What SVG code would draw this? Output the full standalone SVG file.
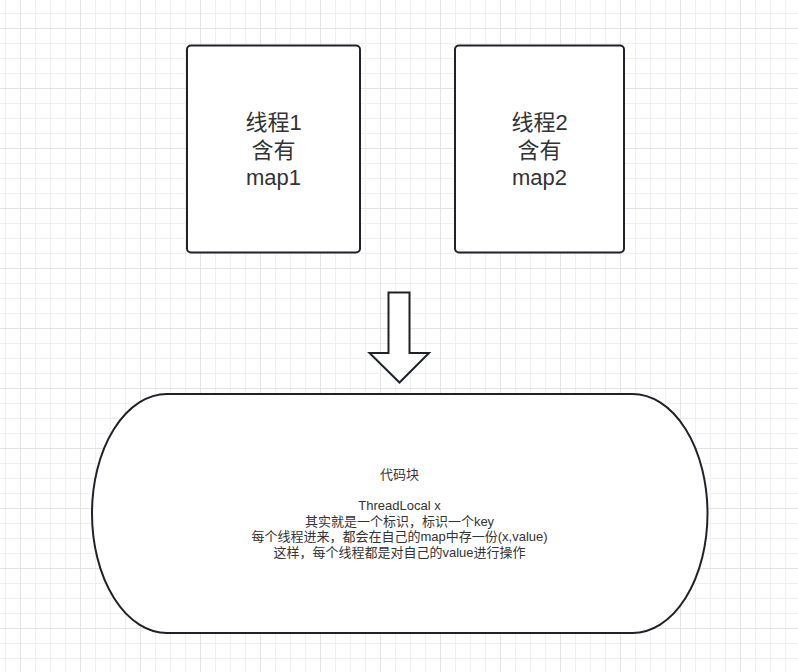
<svg xmlns="http://www.w3.org/2000/svg" width="798" height="672" viewBox="0 0 798 672">
<defs>
<pattern id="minor" width="15" height="15" patternUnits="userSpaceOnUse" x="5" y="13">
<path d="M0 0.5H15M0.5 0V15" fill="none" stroke="#f0f0f0" stroke-width="1"/>
</pattern>
<pattern id="major" width="60" height="60" patternUnits="userSpaceOnUse" x="20" y="28">
<path d="M0 0.5H60M0.5 0V60" fill="none" stroke="#e3e3e3" stroke-width="1"/>
</pattern>
</defs>
<style>
.shape{fill:#ffffff;stroke:#1f2329;stroke-width:2}
.big{font-family:"Liberation Sans","Noto Sans CJK SC",sans-serif;font-size:22px;fill:#333333;text-anchor:middle}
.small{font-family:"Liberation Sans","Noto Sans CJK SC",sans-serif;font-size:13px;fill:#333333;text-anchor:middle}
</style>
<rect width="798" height="672" fill="#ffffff"/>
<rect width="798" height="672" fill="url(#minor)"/>
<rect width="798" height="672" fill="url(#major)"/>
<g id="thread1">
<rect class="shape" x="187" y="45.5" width="173" height="207" rx="4"/>
<text class="big" x="273.5" y="130">线程1</text>
<text class="big" x="273.5" y="157.5">含有</text>
<text class="big" x="273.5" y="185">map1</text>
</g>
<g id="thread2">
<rect class="shape" x="455" y="45.5" width="169" height="207" rx="4"/>
<text class="big" x="539.5" y="130">线程2</text>
<text class="big" x="539.5" y="157.5">含有</text>
<text class="big" x="539.5" y="185">map2</text>
</g>
<g id="connectors">
<path class="shape" d="M388.5 292.5H409.5V353H429L399.5 382.5L369.5 353H388.5Z"/>
</g>
<g id="codeblock">
<rect class="shape" x="92" y="394" width="615.5" height="239" rx="75" ry="119.5"/>
<text class="small" x="399.5" y="479">代码块</text>
<text class="small" x="399.5" y="510">ThreadLocal x</text>
<text class="small" x="399.5" y="525.5">其实就是一个标识，标识一个key</text>
<text class="small" x="399.5" y="541">每个线程进来，都会在自己的map中存一份(x,value)</text>
<text class="small" x="399.5" y="556.5">这样，每个线程都是对自己的value进行操作</text>
</g>
</svg>
